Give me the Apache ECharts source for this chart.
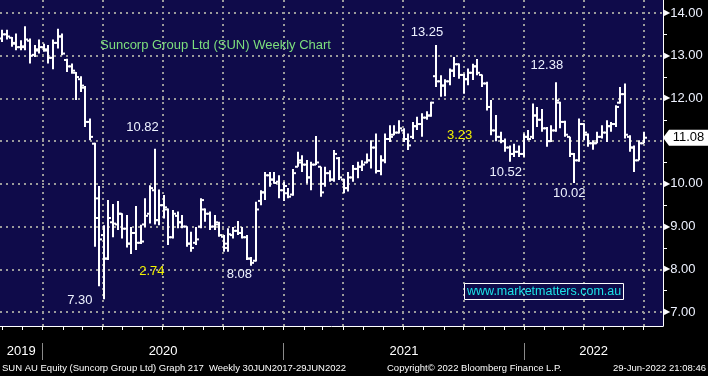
<!DOCTYPE html>
<html>
<head>
<meta charset="utf-8">
<style>
  html, body { margin: 0; padding: 0; background: #000; }
  #chart { width: 708px; height: 376px; }
</style>
<script src="https://cdn.jsdelivr.net/npm/echarts@6/dist/echarts.min.js"></script>
</head>
<body>
<div id="chart"></div>
<script>
// weekly bars, first one dated Fri 1 Nov 2019
const firstWeek = [2019, 10, 1];

const open = [
  13.40, 13.50, 13.42, 13.30, 13.20, 13.20, 13.35, 13.02, 13.12, 13.20,
  13.12, 12.95, 13.30, 13.45, 12.90, 12.75, 12.60, 12.45, 12.25, 11.45,
  10.94, 9.20, 8.80, 8.25, 9.10, 9.05, 9.30, 8.95, 8.60, 8.85,
  8.62, 9.05, 9.30, 9.85, 9.15, 9.50, 9.40, 8.75, 9.25, 9.10,
  9.00, 8.60, 8.62, 9.00, 9.40, 9.30, 9.00, 9.05, 8.76, 8.50,
  8.80, 8.90, 8.85, 8.75, 8.25, 8.20, 9.60, 9.80, 10.20, 10.10,
  10.05, 9.85, 9.78, 9.75, 10.40, 10.55, 10.45, 10.15, 10.45, 10.40,
  10.00, 10.25, 10.10, 10.60, 10.10, 9.90, 10.15, 10.35, 10.40, 10.50,
  10.55, 10.85, 10.30, 10.55, 11.05, 11.15, 11.20, 11.25, 11.05, 11.10,
  11.35, 11.40, 11.55, 11.60, 12.52, 12.40, 12.30, 12.40, 12.65, 12.80,
  12.55, 12.45, 12.60, 12.75, 12.55, 12.35, 11.80, 11.25, 11.10, 11.00,
  10.85, 10.70, 10.75, 10.70, 11.10, 11.10, 11.60, 11.50, 11.30, 11.00,
  11.25, 11.90, 11.45, 11.10, 10.70, 10.55, 11.40, 11.15, 10.95, 10.95,
  11.10, 11.20, 11.35, 11.40, 11.90, 12.10, 11.10, 10.85, 10.55, 10.95
];
const high = [
  13.61, 13.61, 13.44, 13.52, 13.36, 13.69, 13.40, 13.25, 13.38, 13.28,
  13.25, 13.38, 13.63, 13.52, 12.93, 12.82, 12.62, 12.52, 12.29, 11.53,
  10.96, 9.95, 9.03, 9.62, 9.53, 9.60, 9.31, 9.27, 8.99, 9.48,
  9.04, 9.66, 9.97, 10.82, 9.87, 9.74, 9.42, 9.39, 9.35, 9.27,
  9.00, 8.88, 8.99, 9.66, 9.42, 9.35, 9.27, 9.11, 8.80, 8.96,
  8.99, 9.13, 8.99, 8.80, 8.29, 9.58, 9.85, 10.28, 10.28, 10.28,
  10.20, 10.05, 9.90, 10.35, 10.75, 10.67, 10.56, 10.52, 11.12, 10.40,
  10.40, 10.32, 10.79, 10.63, 10.12, 10.28, 10.44, 10.52, 10.55, 10.71,
  11.02, 11.18, 10.67, 11.18, 11.37, 11.37, 11.49, 11.30, 11.18, 11.45,
  11.57, 11.65, 11.70, 11.92, 13.25, 12.54, 12.45, 12.70, 12.97, 12.82,
  12.58, 12.70, 12.81, 12.92, 12.56, 12.39, 11.96, 11.61, 11.22, 11.06,
  10.90, 10.94, 10.90, 11.18, 11.26, 11.88, 11.80, 11.75, 11.33, 11.37,
  12.38, 11.92, 11.48, 11.10, 10.72, 11.53, 11.42, 11.18, 11.02, 11.22,
  11.37, 11.49, 11.45, 11.84, 12.27, 12.35, 11.14, 10.90, 11.02, 11.22
];
const low = [
  13.32, 13.38, 13.21, 13.13, 13.13, 13.13, 12.82, 12.97, 13.05, 13.09,
  12.82, 12.68, 13.17, 13.01, 12.62, 12.58, 11.96, 12.15, 11.33, 11.02,
  8.53, 7.60, 7.30, 8.22, 8.75, 8.92, 8.72, 8.51, 8.36, 8.45,
  8.59, 8.99, 9.07, 9.05, 9.03, 9.19, 8.57, 8.72, 8.96, 8.96,
  8.53, 8.41, 8.57, 8.96, 9.11, 8.92, 8.92, 8.76, 8.41, 8.41,
  8.72, 8.80, 8.72, 8.22, 8.08, 8.18, 9.50, 9.62, 9.93, 10.00,
  9.66, 9.60, 9.66, 9.72, 10.40, 10.28, 10.01, 9.85, 10.44, 9.70,
  9.93, 10.05, 10.05, 10.09, 9.78, 9.82, 10.05, 10.13, 10.30, 10.48,
  10.36, 10.24, 10.20, 10.48, 10.98, 11.14, 11.18, 10.98, 10.79, 11.05,
  11.26, 11.10, 11.50, 11.57, 12.27, 12.04, 12.05, 12.31, 12.50, 12.46,
  12.11, 12.31, 12.43, 12.54, 12.27, 11.72, 11.14, 11.00, 10.95, 10.75,
  10.52, 10.63, 10.63, 10.63, 11.02, 11.05, 11.33, 11.22, 10.87, 10.98,
  11.22, 11.30, 11.10, 10.63, 10.02, 10.52, 11.02, 10.87, 10.80, 10.95,
  11.06, 10.98, 11.22, 11.33, 11.88, 11.06, 10.75, 10.28, 10.55, 10.95
];
const close = [
  13.50, 13.45, 13.28, 13.20, 13.22, 13.38, 13.00, 13.15, 13.20, 13.15,
  12.95, 13.30, 13.45, 13.05, 12.75, 12.65, 12.50, 12.30, 11.45, 11.10,
  9.66, 8.70, 8.25, 9.20, 9.07, 9.30, 8.95, 8.60, 8.85, 8.62,
  8.65, 9.25, 9.90, 9.15, 9.50, 9.45, 8.75, 9.30, 9.10, 9.00,
  8.60, 8.50, 8.70, 9.62, 9.30, 9.00, 9.10, 8.80, 8.60, 8.82,
  8.90, 8.85, 8.75, 8.25, 8.15, 9.40, 9.80, 10.20, 10.10, 10.02,
  9.85, 9.95, 9.70, 10.25, 10.50, 10.45, 10.15, 10.45, 10.50, 9.80,
  10.25, 10.10, 10.70, 10.15, 9.90, 10.15, 10.35, 10.40, 10.45, 10.55,
  10.85, 10.30, 10.55, 11.05, 11.10, 11.20, 11.30, 11.05, 10.90, 11.35,
  11.40, 11.55, 11.60, 11.90, 12.40, 12.30, 12.40, 12.65, 12.80, 12.55,
  12.45, 12.60, 12.75, 12.60, 12.35, 11.80, 11.25, 11.10, 11.00, 10.85,
  10.70, 10.75, 10.70, 11.10, 11.05, 11.60, 11.50, 11.30, 11.00, 11.25,
  11.95, 11.45, 11.15, 10.70, 10.55, 11.40, 11.20, 10.95, 10.95, 11.10,
  11.20, 11.35, 11.40, 11.80, 12.10, 11.15, 10.85, 10.55, 10.95, 11.08
];

// price callouts tied to a bar's high or low
const callouts = [
  { text: '13.25', bar: 94, at: 'high' },
  { text: '12.38', bar: 120, at: 'high' },
  { text: '10.82', bar: 33, at: 'high' },
  { text: '10.52', bar: 110, at: 'low' },
  { text: '10.02', bar: 124, at: 'low' },
  { text: '8.08', bar: 54, at: 'low' },
  { text: '7.30', bar: 22, at: 'low' }
];
// yellow notes placed by date / price
const notes = [
  { text: '3.23', date: [2021, 8, 25], value: 11.14 },
  { text: '2.74', date: [2020, 5, 15], value: 7.94 }
];
const lastPrice = 11.08;
const priceTicks = [7, 8, 9, 10, 11, 12, 13, 14];
const priceLabels = [7, 8, 9, 10, 12, 13, 14];
const halfTicks = [7.5, 8.5, 9.5, 10.5, 11.5, 12.5, 13.5];

const FONT = 'Liberation Sans, Arial, sans-serif';
const DAY = 86400000;
const xMin = Date.UTC(2019, 9, 28, 12);
const xMax = Date.UTC(2022, 6, 30, 14);
const yMin = 6.672, yMax = 14.304;

const t0 = Date.UTC(firstWeek[0], firstWeek[1], firstWeek[2]);
const bars = open.map((o, i) => [t0 + i * 7 * DAY, o, high[i], low[i], close[i]]);

let months = [], quarters = [], yearStarts = [];
for (let y = 2019; y <= 2022; y++) {
  for (let m = 0; m < 12; m++) {
    const t = Date.UTC(y, m, 1);
    if (t < xMin || t > xMax) continue;
    months.push(t);
    if (m % 3 === 0) quarters.push(t);
    if (m === 0) yearStarts.push(t);
  }
}
const yearMids = [2019, 2020, 2021, 2022].map(y => {
  const a = Math.max(Date.UTC(y, 0, 1), xMin), b = Math.min(Date.UTC(y + 1, 0, 1), xMax);
  return (a + b) / 2;
});

const calloutOffsets = {
  '13.25': [-9, -13], '12.38': [-9, -17], '10.82': [-12, -21],
  '10.52': [-4, 11], '10.02': [-5, 10], '8.08': [-12, 9], '7.30': [-24, 1]
};

const markData = callouts.map(c => ({
  coord: [bars[c.bar][0], c.at === 'high' ? high[c.bar] : low[c.bar]],
  label: { formatter: c.text, offset: calloutOffsets[c.text] }
})).concat(notes.map(n => ({
  coord: [Date.UTC(n.date[0], n.date[1], n.date[2]), n.value],
  label: { formatter: n.text, color: '#f2f200' }
}))).concat([{
  coord: [xMax, lastPrice],
  symbol: 'path://M0,8 L6,0 L45,0 L45,16 L6,16 Z',
  symbolSize: [45, 16],
  symbolOffset: [22.5, 0],
  itemStyle: { color: '#fff' },
  label: { formatter: lastPrice.toFixed(2), color: '#000', offset: [3, 0] }
}]);

const chart = echarts.init(document.getElementById('chart'), null, { renderer: 'canvas' });

const gridLine = { show: true, lineStyle: { color: '#9b9b9b', width: 2, type: [2, 4] } };

chart.setOption({
  backgroundColor: '#000',
  animation: false,
  title: [
    {
      text: 'Suncorp Group Ltd (SUN) Weekly Chart',
      left: 100, top: 39, padding: 0,
      textStyle: { color: '#7ddf7d', fontSize: 13, fontWeight: 'normal', fontFamily: FONT }
    },
    {
      text: 'www.marketmatters.com.au',
      left: 464, top: 283, padding: [2, 3, 2, 3],
      borderColor: '#fff', borderWidth: 1,
      textStyle: { color: '#1ce3e8', fontSize: 12.5, fontWeight: 'normal', fontFamily: FONT }
    }
  ],
  grid: {
    left: 0, right: 45, top: 0, bottom: 50,
    show: true, backgroundColor: '#0f0b4a', borderWidth: 0,
    containLabel: false, outerBoundsMode: 'none'
  },
  xAxis: [
    {
      type: 'value', position: 'bottom', min: xMin, max: xMax,
      axisLine: { show: true, lineStyle: { color: '#fff', width: 1 } },
      axisTick: { show: true, customValues: months, length: 4, lineStyle: { color: '#fff' } },
      axisLabel: { show: false },
      splitLine: { show: false }
    },
    {
      type: 'value', position: 'bottom', min: xMin, max: xMax,
      axisLine: { show: false },
      axisTick: { show: false, customValues: quarters },
      axisLabel: {
        show: true, customValues: yearMids, margin: 19,
        color: '#fff', fontSize: 13, fontFamily: FONT,
        formatter: v => String(new Date(v).getUTCFullYear())
      },
      splitLine: gridLine
    },
    {
      type: 'value', position: 'bottom', min: xMin, max: xMax, offset: 17,
      axisLine: { show: false },
      axisTick: { show: true, customValues: yearStarts, length: 17, lineStyle: { color: '#8a8a8a' } },
      axisLabel: { show: false },
      splitLine: { show: false }
    }
  ],
  yAxis: [
    {
      type: 'value', position: 'right', min: yMin, max: yMax,
      axisLine: { show: true, lineStyle: { color: '#fff', width: 1 } },
      axisTick: { show: false, customValues: priceTicks },
      axisLabel: {
        show: true, customValues: priceLabels, margin: 1,
        formatter: v => '{t|▶}{n|' + v.toFixed(2) + '}',
        rich: {
          t: { color: '#fff', fontSize: 8, fontFamily: 'DejaVu Sans' },
          n: { color: '#eef2ff', fontSize: 13, fontFamily: FONT }
        }
      },
      splitLine: gridLine
    },
    {
      type: 'value', position: 'right', min: yMin, max: yMax,
      axisLine: { show: false },
      axisTick: { show: true, customValues: halfTicks, length: 4, lineStyle: { color: '#fff' } },
      axisLabel: { show: false },
      splitLine: { show: false }
    }
  ],
  graphic: [
    { type: 'text', left: 2, top: 363, style: { text: 'SUN AU Equity (Suncorp Group Ltd) Graph 217  Weekly 30JUN2017-29JUN2022', fill: '#fff', font: '9.5px ' + FONT } },
    { type: 'text', left: 387, top: 363, style: { text: 'Copyright© 2022 Bloomberg Finance L.P.', fill: '#fff', font: '9.5px ' + FONT } },
    { type: 'text', right: 2, top: 363, style: { text: '29-Jun-2022 21:08:46', fill: '#fff', font: '9.5px ' + FONT } }
  ],
  series: [
    {
      type: 'custom',
      name: 'SUN',
      xAxisIndex: 0, yAxisIndex: 0,
      dimensions: ['date', 'open', 'high', 'low', 'close'],
      encode: { x: 0, y: [1, 2, 3, 4] },
      data: bars,
      renderItem: function (params, api) {
        const x = api.value(0);
        const pH = api.coord([x, api.value(2)]);
        const pL = api.coord([x, api.value(3)]);
        const pO = api.coord([x, api.value(1)]);
        const pC = api.coord([x, api.value(4)]);
        const px = Math.round(pH[0]);
        const st = { stroke: '#fff', lineWidth: 2 };
        return {
          type: 'group',
          children: [
            { type: 'line', shape: { x1: px, y1: pH[1], x2: px, y2: pL[1] }, style: st },
            { type: 'line', shape: { x1: px - 3, y1: pO[1], x2: px, y2: pO[1] }, style: st },
            { type: 'line', shape: { x1: px, y1: pC[1], x2: px + 3, y2: pC[1] }, style: st }
          ]
        };
      },
      markPoint: {
        symbol: 'circle', symbolSize: 0, silent: true,
        label: { show: true, position: 'inside', color: '#eef2ff', fontSize: 13, fontFamily: FONT },
        data: markData
      }
    }
  ]
});
</script>
</body>
</html>
